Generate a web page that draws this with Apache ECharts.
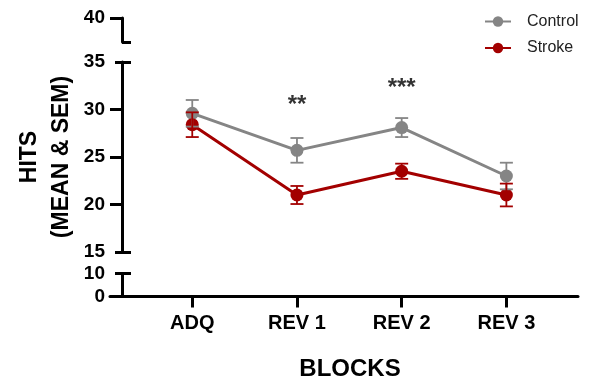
<!DOCTYPE html>
<html><head><meta charset="utf-8">
<script src="https://cdn.jsdelivr.net/npm/echarts@6/dist/echarts.min.js"></script>
<style>html,body{margin:0;padding:0;background:#fff}#c{width:594px;height:379px}</style>
</head><body><div id="c"></div>
<script>
const categories = ['ADQ', 'REV 1', 'REV 2', 'REV 3'];
const controlMean = [29.6, 25.7, 28.1, 23.0];
const controlSem = [1.4, 1.3, 1.0, 1.4];
const strokeMean = [28.4, 21.0, 23.5, 21.0];
const strokeSem = [1.3, 0.95, 0.8, 1.2];
const sigLabels = ['**', '***'];
const sigX = [1, 2];
const sigY = [30.45, 32.25];
const topTicks = [40];
const midTicks = [15, 20, 25, 30, 35];
const bottomTicks = [0, 10];

const FONT = "'Liberation Sans', Arial, sans-serif";
const GRAY = '#858585';
const RED = '#a30000';
const BLACK = '#000';

function errRender(params, api) {
  const x = api.value(0), lo = api.value(1), hi = api.value(2);
  const pLo = api.coord([x, lo]), pHi = api.coord([x, hi]);
  const w = 6.5;
  const style = { stroke: api.visual('color'), lineWidth: 1.8, fill: null };
  return { type: 'group', children: [
    { type: 'line', shape: { x1: pLo[0], y1: pLo[1], x2: pHi[0], y2: pHi[1] }, style },
    { type: 'line', shape: { x1: pLo[0] - w, y1: pLo[1], x2: pLo[0] + w, y2: pLo[1] }, style },
    { type: 'line', shape: { x1: pHi[0] - w, y1: pHi[1], x2: pHi[0] + w, y2: pHi[1] }, style }
  ]};
}

const labelStyle = { color: BLACK, fontFamily: FONT, fontWeight: 'bold', fontSize: 19, margin: 17,
  showMinLabel: true, showMaxLabel: true, hideOverlap: false };

const chart = echarts.init(document.getElementById('c'), null, { renderer: 'canvas' });
chart.setOption({
  animation: false,
  backgroundColor: '#fff',
  legend: {
    data: ['Control', 'Stroke'],
    orient: 'vertical', left: 484, top: 13.5, padding: 0,
    itemWidth: 26, itemHeight: 13, itemGap: 10.5,
    textStyle: { fontFamily: FONT, fontSize: 16, color: '#222', padding: [0, 0, 0, 11] }
  },
  grid: [
    { left: 122, right: 16, top: 18, height: 24, outerBoundsMode: 'none', containLabel: false },
    { left: 122, right: 16, top: 62, height: 190, outerBoundsMode: 'none', containLabel: false },
    { left: 110, right: 16, top: 273.5, height: 23, outerBoundsMode: 'none', containLabel: false }
  ],
  xAxis: [
    { type: 'value', gridIndex: 0, min: -0.671, max: 3.684, show: false },
    { type: 'value', gridIndex: 1, min: -0.671, max: 3.684, show: false },
    { type: 'value', gridIndex: 2, min: -0.786, max: 3.684,
      axisLine: { onZero: false, lineStyle: { color: BLACK, width: 3 } },
      axisTick: { customValues: [0, 1, 2, 3], length: 11, lineStyle: { color: BLACK, width: 3 } },
      axisLabel: { customValues: [0, 1, 2, 3], formatter: v => categories[Math.round(v)],
        color: BLACK, fontFamily: FONT, fontWeight: 'bold', fontSize: 20, margin: 17 },
      splitLine: { show: false },
      name: 'BLOCKS', nameLocation: 'middle', nameGap: 61, nameMoveOverlap: false,
      nameTextStyle: { color: BLACK, fontFamily: FONT, fontWeight: 'bold', fontSize: 24, padding: [0, 0, 0, 12] }
    }
  ],
  yAxis: [
    { type: 'value', gridIndex: 0, min: 37.5, max: 40, position: 'left',
      axisLine: { onZero: false, lineStyle: { color: BLACK, width: 3 } },
      axisTick: { customValues: topTicks, length: 12, lineStyle: { color: BLACK, width: 3 } },
      axisLabel: Object.assign({ customValues: topTicks }, labelStyle),
      splitLine: { show: false } },
    { type: 'value', gridIndex: 0, min: 37.5, max: 40, position: 'left', offset: -9,
      axisLine: { show: false, onZero: false },
      axisTick: { customValues: [37.5], length: 9, lineStyle: { color: BLACK, width: 3 } },
      axisLabel: { show: false }, splitLine: { show: false } },
    { type: 'value', gridIndex: 1, min: 15, max: 35, interval: 5, position: 'left',
      axisLine: { onZero: false, lineStyle: { color: BLACK, width: 3 } },
      axisTick: { customValues: [20, 25, 30], length: 12, lineStyle: { color: BLACK, width: 3 } },
      axisLabel: Object.assign({ customValues: midTicks }, labelStyle),
      splitLine: { show: false },
      name: 'HITS\n(MEAN & SEM)', nameLocation: 'middle', nameGap: 44, nameMoveOverlap: false,
      nameTextStyle: { color: BLACK, fontFamily: FONT, fontWeight: 'bold', fontSize: 23, lineHeight: 32 } },
    { type: 'value', gridIndex: 1, min: 15, max: 35, position: 'left', offset: -9,
      axisLine: { show: false, onZero: false },
      axisTick: { customValues: [15, 35], length: 16, lineStyle: { color: BLACK, width: 3 } },
      axisLabel: { show: false }, splitLine: { show: false } },
    { type: 'value', gridIndex: 2, min: 0, max: 10, position: 'left', offset: -12,
      axisLine: { onZero: false, lineStyle: { color: BLACK, width: 3 } },
      axisTick: { show: false },
      axisLabel: Object.assign({ customValues: bottomTicks }, labelStyle),
      splitLine: { show: false } },
    { type: 'value', gridIndex: 2, min: 0, max: 10, position: 'left', offset: -21,
      axisLine: { show: false, onZero: false },
      axisTick: { customValues: [10], length: 16, lineStyle: { color: BLACK, width: 3 } },
      axisLabel: { show: false }, splitLine: { show: false } }
  ],
  series: [
    { name: 'Control', type: 'line', xAxisIndex: 1, yAxisIndex: 2, z: 2,
      data: controlMean.map((v, i) => [i, v]),
      symbol: 'circle', symbolSize: 13,
      lineStyle: { color: GRAY, width: 3 }, itemStyle: { color: GRAY } },
    { name: 'Stroke', type: 'line', xAxisIndex: 1, yAxisIndex: 2, z: 3,
      data: strokeMean.map((v, i) => [i, v]),
      symbol: 'circle', symbolSize: 13,
      lineStyle: { color: RED, width: 3 }, itemStyle: { color: RED } },
    { name: 'ctrlErr', type: 'custom', xAxisIndex: 1, yAxisIndex: 2, z: 4,
      renderItem: errRender, itemStyle: { color: GRAY },
      encode: { x: 0, y: [1, 2] },
      data: controlMean.map((v, i) => [i, v - controlSem[i], v + controlSem[i]]) },
    { name: 'strokeErr', type: 'custom', xAxisIndex: 1, yAxisIndex: 2, z: 4,
      renderItem: errRender, itemStyle: { color: RED },
      encode: { x: 0, y: [1, 2] },
      data: strokeMean.map((v, i) => [i, v - strokeSem[i], v + strokeSem[i]]) },
    { name: 'sig', type: 'scatter', xAxisIndex: 1, yAxisIndex: 2, z: 5,
      symbolSize: 0, silent: true,
      data: sigX.map((x, i) => ({ value: [x, sigY[i]], label: { formatter: sigLabels[i] } })),
      label: { show: true, position: 'inside', color: BLACK, fontFamily: FONT, fontWeight: 'bold', fontSize: 24 } }
  ]
});
</script>
</body></html>
